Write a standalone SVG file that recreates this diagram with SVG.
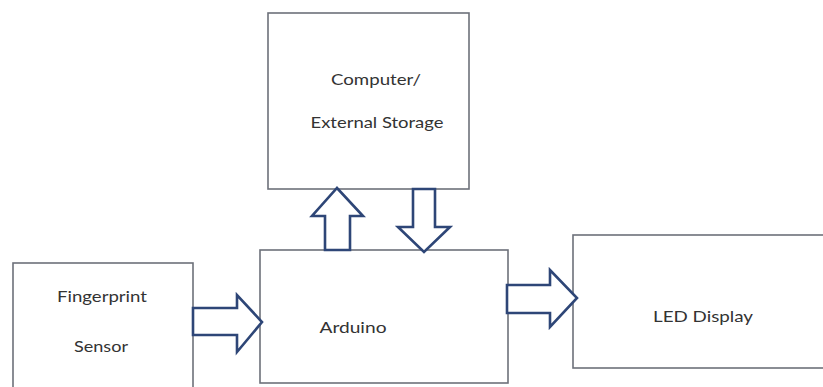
<svg xmlns="http://www.w3.org/2000/svg" width="823" height="387" viewBox="0 0 823 387">
<style>
.box{fill:#ffffff;stroke:#6d717a;stroke-width:1.6}
.arr{fill:#ffffff;stroke:#2e4677;stroke-width:2.6;stroke-linejoin:miter}
.t{font-family:Lato,"Open Sans",sans-serif;font-size:16px;fill:#333333;text-anchor:middle}
</style>
<rect width="823" height="387" fill="#ffffff"/>
<g id="computer">
<rect class="box" x="268" y="13" width="201" height="176"/>
<text class="t" x="376" y="85" textLength="90" lengthAdjust="spacingAndGlyphs">Computer/</text>
<text class="t" x="377" y="128" textLength="133" lengthAdjust="spacingAndGlyphs">External Storage</text>
</g>
<g id="fingerprint">
<rect class="box" x="13" y="263" width="180" height="140"/>
<text class="t" x="102" y="302" textLength="90" lengthAdjust="spacingAndGlyphs">Fingerprint</text>
<text class="t" x="101" y="352" textLength="54" lengthAdjust="spacingAndGlyphs">Sensor</text>
</g>
<g id="arduino">
<rect class="box" x="260" y="250" width="248" height="133"/>
<text class="t" x="353" y="333" textLength="67" lengthAdjust="spacingAndGlyphs">Arduino</text>
</g>
<g id="led">
<rect class="box" x="573" y="235" width="270" height="133"/>
<text class="t" x="703" y="322" textLength="100" lengthAdjust="spacingAndGlyphs">LED Display</text>
</g>
<g id="connectors">
<polygon class="arr" points="193,308 237,308 237,295 262,322 237,352 237,335 193,335"/>
<polygon class="arr" points="507,285 550,285 550,270 577,298 550,327 550,313 507,313"/>
<polygon class="arr" points="325,250 325,216 312,216 337,188 363,216 350,216 350,250"/>
<polygon class="arr" points="413,189 435,189 435,227 450,227 424,252 398,227 413,227"/>
</g>
</svg>
